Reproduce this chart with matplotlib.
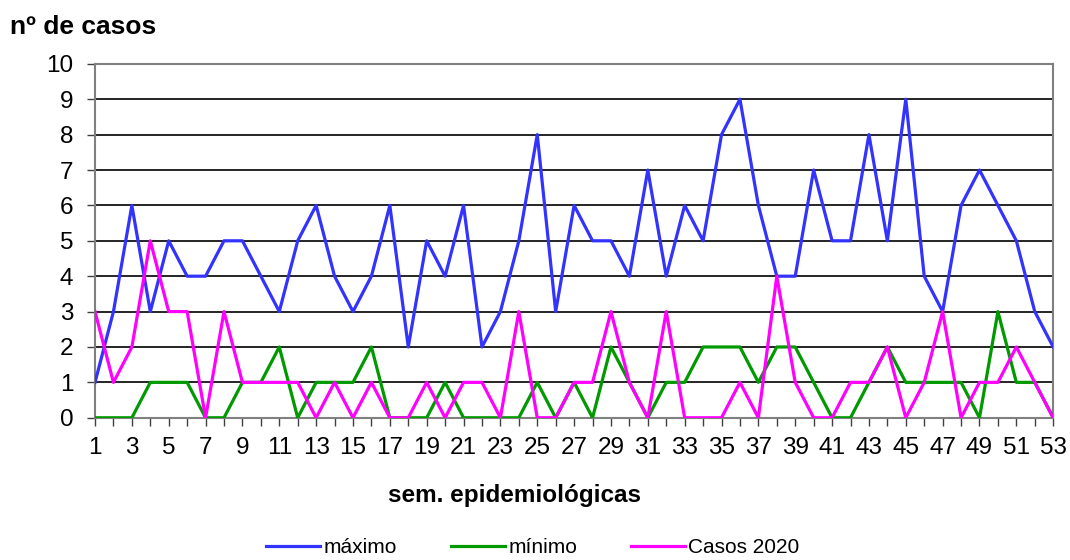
import matplotlib
matplotlib.use('Agg')
import matplotlib.pyplot as plt

plt.rcParams['font.family'] = ['Liberation Sans', 'DejaVu Sans']

# semanas epidemiológicas
semanas = list(range(1, 54))

maximo = [1, 3, 6, 3, 5, 4, 4, 5, 5, 4, 3, 5, 6,
          4, 3, 4, 6, 2, 5, 4, 6, 2, 3, 5, 8, 3,
          6, 5, 5, 4, 7, 4, 6, 5, 8, 9, 6, 4, 4,
          7, 5, 5, 8, 5, 9, 4, 3, 6, 7, 6, 5, 3, 2]

minimo = [0, 0, 0, 1, 1, 1, 0, 0, 1, 1, 2, 0, 1,
          1, 1, 2, 0, 0, 0, 1, 0, 0, 0, 0, 1, 0,
          1, 0, 2, 1, 0, 1, 1, 2, 2, 2, 1, 2, 2,
          1, 0, 0, 1, 2, 1, 1, 1, 1, 0, 3, 1, 1, 0]

casos_2020 = [3, 1, 2, 5, 3, 3, 0, 3, 1, 1, 1, 1, 0,
              1, 0, 1, 0, 0, 1, 0, 1, 1, 0, 3, 0, 0,
              1, 1, 3, 1, 0, 3, 0, 0, 0, 1, 0, 4, 1,
              0, 0, 1, 1, 2, 0, 1, 3, 0, 1, 1, 2, 1, 0]

fig = plt.figure(figsize=(10.7, 5.6), dpi=100)
ax = fig.add_axes([0.0888, 0.254, 0.8955, 0.632])

ax.plot(semanas, maximo, color='#3333FF', lw=2.3, label='máximo', zorder=3)
ax.plot(semanas, minimo, color='#009900', lw=2.3, label='mínimo', zorder=3)
ax.plot(semanas, casos_2020, color='#FF00FF', lw=2.3, label='Casos 2020', zorder=4)

ax.set_xlim(1, 53)
ax.set_ylim(0, 10)
ax.set_yticks(range(0, 11))
ax.set_xticks(semanas)
ax.set_xticklabels([str(s) if s % 2 == 1 else '' for s in semanas])

# grelha horizontal preta
for y in range(1, 10):
    ax.axhline(y, color='black', lw=1.2, zorder=1)

for side in ['top', 'right', 'left', 'bottom']:
    ax.spines[side].set_color('#808080')
    ax.spines[side].set_linewidth(1.5)

ax.tick_params(axis='both', direction='out', length=5.5, width=1, color='#404040',
               labelsize=17.5)
ax.tick_params(axis='x', pad=8)
ax.tick_params(axis='y', pad=10)

fig.text(0.009, 0.951, 'nº de casos', fontsize=19, fontweight='bold', va='center', ha='left')
fig.text(0.481, 0.116, 'sem. epidemiológicas', fontsize=17.5, fontweight='bold', va='center', ha='center')

fig.legend(loc='center', bbox_to_anchor=(0.498, 0.022), ncol=3, frameon=False,
           fontsize=15, handlelength=2.6, handletextpad=0.15, columnspacing=2.6)

fig.savefig('out.png', dpi=100)
